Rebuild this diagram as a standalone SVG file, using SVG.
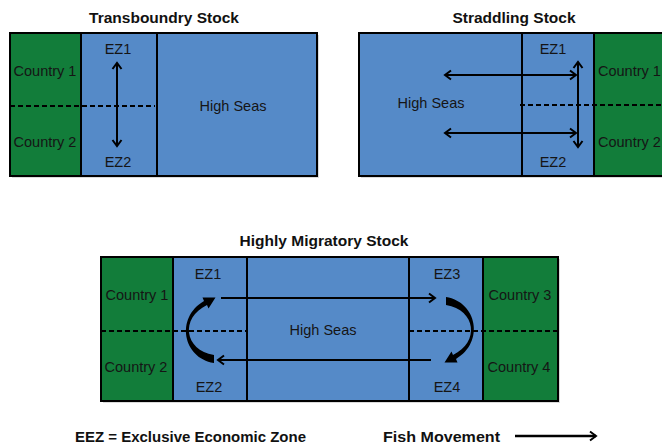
<svg xmlns="http://www.w3.org/2000/svg" width="662" height="445" viewBox="0 0 662 445">
<style>
.sea{fill:#558AC8}
.land{fill:#127D3A}
.frame{fill:none;stroke:#000;stroke-width:2}
.div{stroke:#000;stroke-width:2}
.dash{stroke:#000;stroke-width:2;stroke-dasharray:5 3}
.lbl{font-family:"Liberation Sans",Arial,sans-serif;font-size:14.5px;fill:#151515;text-anchor:middle}
.ttl{font-family:"Liberation Sans",Arial,sans-serif;font-size:15.5px;font-weight:bold;fill:#111;text-anchor:middle}
.leg{font-family:"Liberation Sans",Arial,sans-serif;font-size:15px;font-weight:bold;fill:#111}
.arr{stroke:#000;stroke-width:2;fill:none}
.shadow{fill:#999;opacity:0.35}
</style>
<defs>
<marker id="ah" viewBox="-8 -6 10 12" refX="0" refY="0" markerWidth="10" markerHeight="12" markerUnits="userSpaceOnUse" orient="auto-start-reverse">
<path d="M-6,-4.5 L0,0 L-6,4.5" fill="none" stroke="#000" stroke-width="2"/>
</marker>
<path id="curve" d="M214,363 C183,358 175,318 204,301 L202.5,297.5 L215.5,297.5 L208.5,308.5 L207,305 C180,318 184,350 214,355 Z" fill="#000"/>
</defs>

<!-- Transboundry Stock -->
<g id="transboundry">
<text class="ttl" x="164" y="23">Transboundry Stock</text>
<rect class="shadow" x="12" y="35" width="307" height="143"/>
<g id="tb-country"><rect class="land" x="10" y="33" width="71" height="143"/>
<text class="lbl" x="45" y="76">Country 1</text>
<text class="lbl" x="45" y="147">Country 2</text></g>
<g id="tb-ez"><rect class="sea" x="81" y="33" width="76" height="143"/>
<text class="lbl" x="118" y="54">EZ1</text>
<text class="lbl" x="118" y="167">EZ2</text></g>
<g id="tb-highseas"><rect class="sea" x="157" y="33" width="160" height="143"/>
<text class="lbl" x="233" y="111">High Seas</text></g>
<line class="div" x1="81" y1="33" x2="81" y2="176"/>
<line class="div" x1="157" y1="33" x2="157" y2="176"/>
<line class="dash" x1="10" y1="106" x2="155" y2="106"/>
<rect class="frame" x="10" y="33" width="307" height="143"/>
</g>

<!-- Straddling Stock -->
<g id="straddling">
<text class="ttl" x="514" y="23">Straddling Stock</text>
<rect class="shadow" x="361" y="35" width="310" height="143"/>
<g id="st-highseas"><rect class="sea" x="359" y="33" width="163" height="143"/>
<text class="lbl" x="431" y="108">High Seas</text></g>
<g id="st-ez"><rect class="sea" x="522" y="33" width="72" height="143"/>
<text class="lbl" x="553" y="54">EZ1</text>
<text class="lbl" x="553" y="167">EZ2</text></g>
<g id="st-country"><rect class="land" x="594" y="33" width="80" height="143"/>
<text class="lbl" x="598" y="76" style="text-anchor:start">Country 1</text>
<text class="lbl" x="598" y="147" style="text-anchor:start">Country 2</text></g>
<line class="div" x1="522" y1="33" x2="522" y2="176"/>
<line class="div" x1="594" y1="33" x2="594" y2="176"/>
<line class="dash" x1="520" y1="105" x2="662" y2="105"/>
<rect class="frame" x="359" y="33" width="315" height="143"/>
</g>

<!-- Highly Migratory Stock -->
<g id="migratory">
<text class="ttl" x="324" y="246">Highly Migratory Stock</text>
<rect class="shadow" x="103" y="259" width="457" height="144"/>
<g id="hm-country12"><rect class="land" x="101" y="257" width="72" height="144"/>
<text class="lbl" x="137" y="300">Country 1</text>
<text class="lbl" x="136" y="372">Country 2</text></g>
<g id="hm-ez12"><rect class="sea" x="173" y="257" width="74" height="144"/>
<text class="lbl" x="208" y="279">EZ1</text>
<text class="lbl" x="209" y="392">EZ2</text></g>
<g id="hm-highseas"><rect class="sea" x="247" y="257" width="162" height="144"/>
<text class="lbl" x="323" y="335">High Seas</text></g>
<g id="hm-ez34"><rect class="sea" x="409" y="257" width="74" height="144"/>
<text class="lbl" x="447" y="279">EZ3</text>
<text class="lbl" x="447" y="392">EZ4</text></g>
<g id="hm-country34"><rect class="land" x="483" y="257" width="75" height="144"/>
<text class="lbl" x="520" y="300">Country 3</text>
<text class="lbl" x="519" y="372">Country 4</text></g>
<line class="div" x1="173" y1="257" x2="173" y2="401"/>
<line class="div" x1="247" y1="257" x2="247" y2="401"/>
<line class="div" x1="409" y1="257" x2="409" y2="401"/>
<line class="div" x1="483" y1="257" x2="483" y2="401"/>
<line class="dash" x1="101" y1="331" x2="247" y2="331"/>
<line class="dash" x1="409" y1="331" x2="558" y2="331"/>
<rect class="frame" x="101" y="257" width="457" height="144"/>
</g>

<!-- Connectors -->
<g id="connectors">
<line class="arr" x1="117" y1="63" x2="117" y2="146" marker-start="url(#ah)" marker-end="url(#ah)"/>
<line class="arr" x1="445" y1="75" x2="576" y2="75" marker-start="url(#ah)" marker-end="url(#ah)"/>
<line class="arr" x1="445" y1="133" x2="576" y2="133" marker-start="url(#ah)" marker-end="url(#ah)"/>
<line class="arr" x1="578" y1="62" x2="578" y2="147" marker-start="url(#ah)" marker-end="url(#ah)"/>
<line class="arr" x1="221" y1="298" x2="435" y2="298" marker-end="url(#ah)"/>
<line class="arr" x1="431" y1="360" x2="218" y2="360" marker-end="url(#ah)"/>
<use href="#curve"/>
<use href="#curve" transform="rotate(180 330 330)"/>
</g>

<!-- Legend -->
<g id="legend">
<text class="leg" x="75" y="442" textLength="231" lengthAdjust="spacingAndGlyphs">EEZ = Exclusive Economic Zone</text>
<text class="leg" x="383" y="442" textLength="117" lengthAdjust="spacingAndGlyphs">Fish Movement</text>
<line x1="515" y1="436" x2="596" y2="436" stroke="#000" stroke-width="2.5" marker-end="url(#ah)"/>
</g>
</svg>
